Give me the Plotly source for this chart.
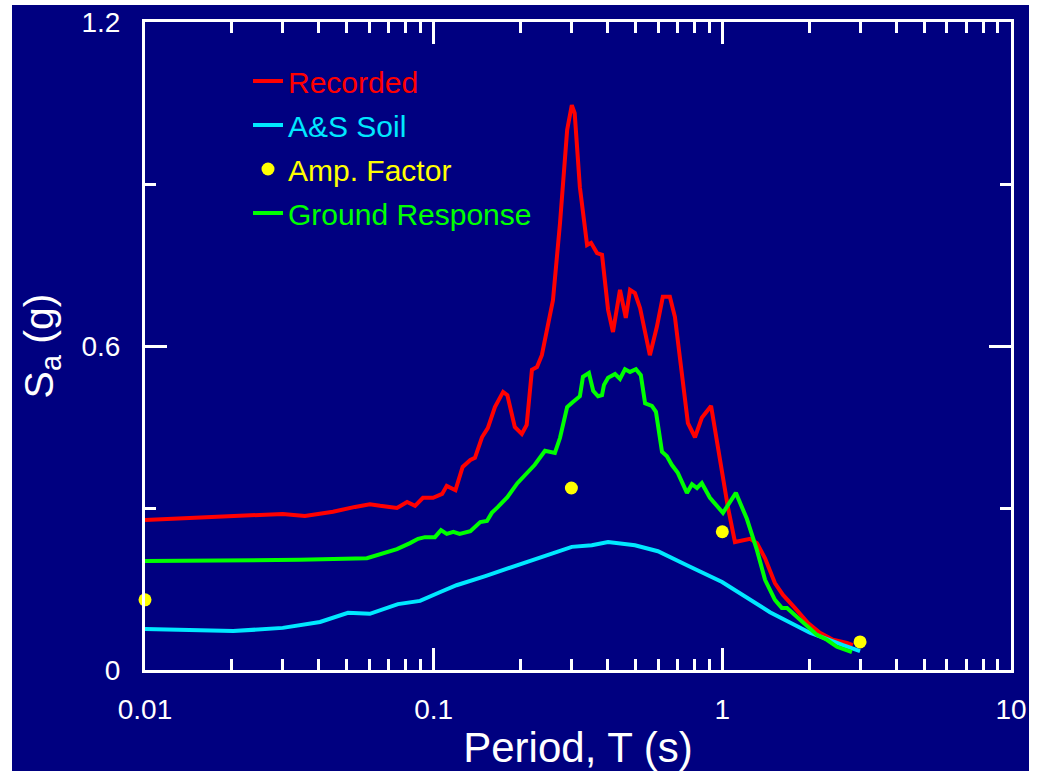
import plotly.graph_objects as go

# ---------------- data ----------------
rec_T = [0.010, 0.030, 0.0358, 0.0448, 0.0534, 0.0601, 0.0652, 0.0746, 0.0809, 0.0862,
         0.0918, 0.0995, 0.107, 0.111, 0.119, 0.126, 0.134, 0.139, 0.147, 0.154,
         0.163, 0.174, 0.180, 0.191, 0.202, 0.210, 0.219, 0.228, 0.237, 0.247,
         0.259, 0.274, 0.290, 0.301, 0.308, 0.321, 0.340, 0.351, 0.368, 0.383,
         0.402, 0.418, 0.442, 0.463, 0.479, 0.498, 0.519, 0.561, 0.593, 0.622,
         0.658, 0.685, 0.731, 0.760, 0.804, 0.849, 0.914, 0.982, 1.045, 1.106,
         1.247, 1.318, 1.406, 1.521, 1.622, 1.783, 1.981, 2.178, 2.415, 2.702, 2.832]
rec_Sa = [0.278, 0.289, 0.285, 0.293, 0.302, 0.307, 0.304, 0.300, 0.311, 0.304,
          0.319, 0.319, 0.326, 0.341, 0.333, 0.376, 0.389, 0.393, 0.431, 0.448,
          0.487, 0.515, 0.509, 0.450, 0.437, 0.454, 0.556, 0.561, 0.583, 0.630,
          0.685, 0.828, 1.000, 1.046, 1.031, 0.894, 0.787, 0.791, 0.772, 0.769,
          0.667, 0.626, 0.704, 0.652, 0.704, 0.698, 0.670, 0.583, 0.635, 0.691,
          0.691, 0.654, 0.531, 0.457, 0.431, 0.467, 0.489, 0.389, 0.302, 0.237,
          0.243, 0.235, 0.207, 0.161, 0.139, 0.115, 0.087, 0.069, 0.056, 0.050, 0.046]

as_T = [0.010, 0.0202, 0.030, 0.0404, 0.0505, 0.0601, 0.0752, 0.0897, 0.105, 0.120,
        0.151, 0.174, 0.199, 0.247, 0.301, 0.353, 0.402, 0.498, 0.598, 0.754,
        0.998, 1.462, 2.010, 2.618, 3.0]
as_Sa = [0.076, 0.072, 0.078, 0.089, 0.106, 0.104, 0.122, 0.128, 0.144, 0.157,
         0.174, 0.185, 0.194, 0.211, 0.228, 0.231, 0.237, 0.231, 0.220, 0.194,
         0.163, 0.107, 0.069, 0.046, 0.035]

amp_T = [0.01, 0.3, 1.0, 3.0]
amp_Sa = [0.130, 0.337, 0.256, 0.052]

gr_T = [0.010, 0.0344, 0.0587, 0.0689, 0.0746, 0.0828, 0.0883, 0.0933, 0.101, 0.106,
        0.111, 0.117, 0.123, 0.134, 0.145, 0.153, 0.159, 0.167, 0.180, 0.195,
        0.207, 0.224, 0.243, 0.263, 0.274, 0.290, 0.303, 0.321, 0.329, 0.345,
        0.357, 0.371, 0.383, 0.389, 0.402, 0.425, 0.442, 0.460, 0.479, 0.502,
        0.522, 0.540, 0.570, 0.589, 0.618, 0.643, 0.668, 0.701, 0.754, 0.785,
        0.817, 0.849, 0.906, 1.005, 1.114, 1.216, 1.318, 1.406, 1.521, 1.607,
        1.675, 1.783, 1.932, 2.128, 2.301, 2.495, 2.812]
gr_Sa = [0.202, 0.204, 0.207, 0.219, 0.224, 0.235, 0.243, 0.246, 0.246, 0.259,
         0.252, 0.256, 0.252, 0.257, 0.274, 0.276, 0.291, 0.302, 0.320, 0.346,
         0.361, 0.380, 0.406, 0.402, 0.430, 0.487, 0.496, 0.507, 0.543, 0.550,
         0.517, 0.507, 0.509, 0.528, 0.541, 0.548, 0.539, 0.557, 0.552, 0.557,
         0.546, 0.494, 0.489, 0.478, 0.404, 0.396, 0.380, 0.365, 0.328, 0.344,
         0.337, 0.346, 0.319, 0.291, 0.328, 0.280, 0.222, 0.167, 0.130, 0.115,
         0.115, 0.102, 0.083, 0.065, 0.056, 0.043, 0.033]

x_tickvals = [0.01, 0.1, 1, 10]
x_ticktext = ["0.01", "0.1", "1", "10"]
y_tickvals = [0, 0.6, 1.2]
y_ticktext = ["0", "0.6", "1.2"]

NAVY = "#000080"
FONT = "Liberation Sans, Arial, sans-serif"

fig = go.Figure()
fig.add_trace(go.Scatter(x=rec_T, y=rec_Sa, mode="lines",
                         name="<span style='color:#ff0000'>Recorded</span>",
                         line=dict(color="#ff0000", width=4), legendgroup="a"))
fig.add_trace(go.Scatter(x=as_T, y=as_Sa, mode="lines",
                         name="<span style='color:#00e8ff'>A&amp;S Soil</span>",
                         line=dict(color="#00e8ff", width=4), legendgroup="b"))
fig.add_trace(go.Scatter(x=amp_T, y=amp_Sa, mode="markers",
                         name="<span style='color:#ffff00'>Amp. Factor</span>",
                         marker=dict(color="#ffff00", size=13), cliponaxis=False,
                         legendgroup="c"))
fig.add_trace(go.Scatter(x=gr_T, y=gr_Sa, mode="lines",
                         name="<span style='color:#00ff00'>Ground Response</span>",
                         line=dict(color="#00ff00", width=4), legendgroup="d"))

L, R, T_, B = 145, 26, 22, 101
W, H = 1037, 771
pw, ph = W - L - R, H - T_ - B


def px2paper_x(px):
    return (px - L) / pw


def py2paper_y(py):
    return (H - B - py) / ph


fig.add_shape(type="rect", xref="paper", yref="paper", layer="below",
              x0=px2paper_x(12), x1=px2paper_x(1029),
              y0=py2paper_y(771), y1=py2paper_y(5),
              fillcolor=NAVY, line=dict(width=0))

axis_common = dict(showline=True, linecolor="white", linewidth=3, mirror="ticks",
                   ticks="inside", ticklen=22, tickwidth=3, tickcolor="white",
                   showgrid=False, zeroline=False,
                   tickfont=dict(family=FONT, size=28, color="white"))

fig.update_xaxes(type="log", range=[-2, 1], tickvals=x_tickvals, ticktext=x_ticktext,
                 ticklabelstandoff=12,
                 minor=dict(ticks="inside", ticklen=11, tickwidth=3, tickcolor="white",
                            dtick="D1", showgrid=False),
                 title=dict(text="Period, T (s)", font=dict(family=FONT, size=42, color="white"),
                            standoff=11),
                 **axis_common)
fig.update_yaxes(range=[0, 1.2], tickvals=y_tickvals, ticktext=y_ticktext,
                 ticklabelstandoff=16,
                 minor=dict(ticks="inside", ticklen=11, tickwidth=3, tickcolor="white",
                            dtick=0.3, tick0=0, showgrid=False),
                 title=dict(text="S<sub>a</sub> (g)", font=dict(family=FONT, size=41, color="white"),
                            standoff=16),
                 **axis_common)

fig.update_layout(
    width=W, height=H,
    margin=dict(l=L, r=R, t=T_, b=B, autoexpand=False),
    paper_bgcolor="white", plot_bgcolor=NAVY,
    showlegend=True,
    legend=dict(x=px2paper_x(248), y=py2paper_y(55), xanchor="left", yanchor="top",
                bgcolor="rgba(0,0,0,0)", borderwidth=0,
                font=dict(family=FONT, size=30, color="white"),
                tracegroupgap=2, itemwidth=30),
)

fig.write_html("out.html")
